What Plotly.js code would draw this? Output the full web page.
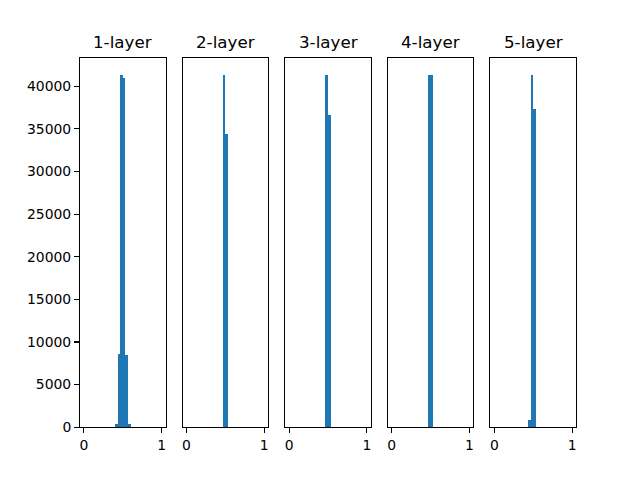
<!DOCTYPE html>
<html>
<head>
<meta charset="utf-8">
<script src="https://cdn.plot.ly/plotly-3.0.1.min.js"></script>
<style>html,body{margin:0;padding:0;background:#fff}#chart{width:640px;height:480px}</style>
</head>
<body>
<div id="chart"></div>
<script>
// Histogram counts: 30 equal bins over [0, 1]
const binCount = 30;
const titles = ["1-layer", "2-layer", "3-layer", "4-layer", "5-layer"];
const layer1 = [0,0,0,0,0,0,0,0,0,0,0,0,400,8560,41290,41020,8450,380,0,0,0,0,0,0,0,0,0,0,0,0];
const layer2 = [0,0,0,0,0,0,0,0,0,0,0,0,0,0,54580,45420,0,0,0,0,0,0,0,0,0,0,0,0,0,0];
const layer3 = [0,0,0,0,0,0,0,0,0,0,0,0,0,0,53020,46980,0,0,0,0,0,0,0,0,0,0,0,0,0,0];
const layer4 = [0,0,0,0,0,0,0,0,0,0,0,0,0,0,50010,49990,0,0,0,0,0,0,0,0,0,0,0,0,0,0];
const layer5 = [0,0,0,0,0,0,0,0,0,0,0,0,0,1040,52010,46950,0,0,0,0,0,0,0,0,0,0,0,0,0,0];
const xTicks = [0, 1];
const yTicks = [0, 5000, 10000, 15000, 20000, 25000, 30000, 35000, 40000];
const layers = [layer1, layer2, layer3, layer4, layer5];

(function () {
  const W = 640, H = 480;
  const padL = 0.125, padR = 0.9, padB = 0.11, padT = 0.88, wspace = 0.2;
  const n = layers.length;
  const axW = (padR - padL) / (n + (n - 1) * wspace);
  const gap = axW * wspace;

  const centers = [];
  for (let i = 0; i < binCount; i++) centers.push((i + 0.5) / binCount);

  const data = [];
  const layout = {
    width: W, height: H,
    margin: {l: 0, r: 0, t: 0, b: 0},
    paper_bgcolor: "#ffffff",
    plot_bgcolor: "#ffffff",
    showlegend: false,
    bargap: 0,
    font: {family: "DejaVu Sans", size: 13.9, color: "#000"},
    annotations: []
  };

  layers.forEach((counts, k) => {
    const sfx = k === 0 ? "" : String(k + 1);
    const x0 = padL + k * (axW + gap);
    data.push({
      type: "bar",
      x: centers,
      y: counts,
      width: 1 / binCount,
      marker: {color: "#1f77b4", line: {width: 0}},
      xaxis: "x" + sfx,
      yaxis: "y" + sfx,
      hoverinfo: "skip"
    });
    const maxC = Math.max(...counts);
    layout["xaxis" + sfx] = {
      domain: [x0, x0 + axW],
      anchor: "y" + sfx,
      range: [-0.05, 1.05],
      tickmode: "array",
      tickvals: xTicks,
      ticktext: xTicks.map(String),
      ticks: "outside", ticklen: 4.9, tickwidth: 1.1, tickcolor: "#000",
      showgrid: false, zeroline: false,
      showline: true, linecolor: "#000", linewidth: 1.1, mirror: true,
      tickfont: {family: "DejaVu Sans", size: 13.9, color: "#000"},
      fixedrange: true
    };
    const yax = {
      domain: [padB, padT],
      anchor: "x" + sfx,
      range: [0, maxC * 1.05],
      showgrid: false, zeroline: false,
      showline: true, linecolor: "#000", linewidth: 1.1, mirror: true,
      fixedrange: true
    };
    if (k === 0) {
      Object.assign(yax, {
        tickmode: "array",
        tickvals: yTicks,
        ticktext: yTicks.map(String),
        ticks: "outside", ticklen: 4.9, tickwidth: 1.1, tickcolor: "#000",
        tickfont: {family: "DejaVu Sans", size: 13.9, color: "#000"}
      });
    } else {
      Object.assign(yax, {showticklabels: false, ticks: ""});
    }
    layout["yaxis" + sfx] = yax;
    layout.annotations.push({
      xref: "paper", yref: "paper",
      x: x0 + axW / 2, y: padT,
      xanchor: "center", yanchor: "bottom",
      yshift: 4,
      showarrow: false,
      text: titles[k],
      font: {family: "DejaVu Sans", size: 16.7, color: "#000"}
    });
  });

  Plotly.newPlot("chart", data, layout, {staticPlot: true, displayModeBar: false});
})();
</script>
</body>
</html>
